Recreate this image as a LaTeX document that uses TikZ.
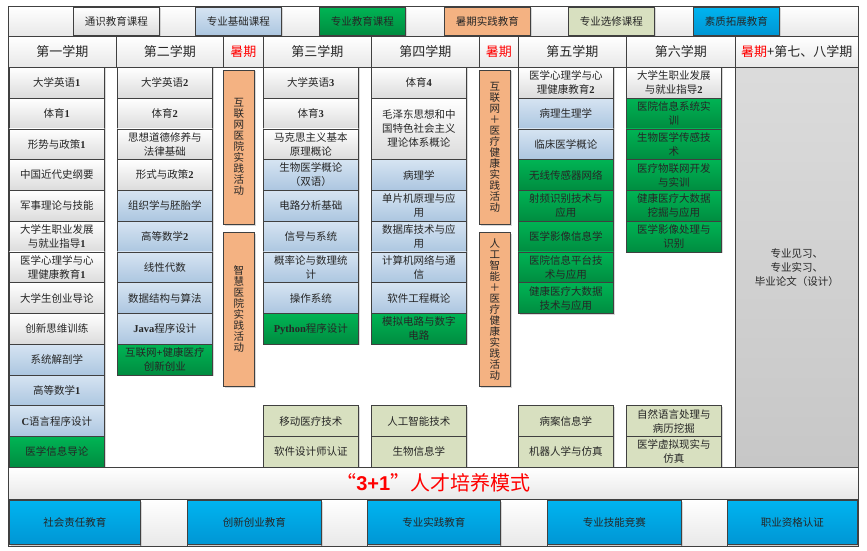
\documentclass[tikz,border=0pt]{standalone}
\usepackage{fontspec}
\setmainfont{Noto Sans CJK SC}
\newfontfamily\latinfont{Liberation Serif}
\newfontfamily\titlelatin{Liberation Sans}
\usetikzlibrary{shadows}
\definecolor{basicTop}{RGB}{214,228,242}
\definecolor{basicBot}{RGB}{172,198,224}
\definecolor{majorTop}{RGB}{0,180,84}
\definecolor{majorBot}{RGB}{0,140,64}
\definecolor{electiveFill}{RGB}{216,224,192}
\definecolor{summerFill}{RGB}{244,178,130}
\definecolor{qualityTop}{RGB}{0,180,240}
\definecolor{qualityBot}{RGB}{0,150,212}
\newcommand\lnum[1]{{\latinfont\bfseries #1}}
\begin{document}
\begin{tikzpicture}[x=1pt,y=-1pt,
    box/.style={draw=black!75,line width=0.6pt,anchor=north west,inner sep=1pt,align=center,
      font=\fontsize{10.5}{14}\selectfont,text=black!85},
    course/.style={box,minimum width=95pt,minimum height=30.77pt,
      drop shadow={shadow xshift=1.2pt,shadow yshift=-1.2pt,fill=black!30}},
    general/.style={course,top color=white,bottom color=black!14},
    basic/.style={course,top color=basicTop,bottom color=basicBot},
    major/.style={course,top color=majorTop,bottom color=majorBot},
    elective/.style={course,fill=electiveFill},
    summer/.style={course,fill=summerFill,minimum width=31pt,minimum height=154pt,
      font=\fontsize{10.5}{11}\selectfont},
    quality/.style={course,top color=qualityTop,bottom color=qualityBot},
    cell/.style={box,top color=white,bottom color=black!9}]
  \useasboundingbox (0,0) rectangle (867,551);
  \node[cell,minimum width=850,minimum height=30] (legend) at (8,6) {};
  \foreach \s/\x/\t in {general/73/通识教育课程,basic/195/专业基础课程,major/319/专业教育课程,
      summer/444/暑期实践教育,elective/568/专业选修课程,quality/693/素质拓展教育}
    \node[\s,minimum width=86,minimum height=28,font=\fontsize{10.5}{14}\selectfont] (l\x) at (\x,7) {\t};
  \foreach \x/\w/\t in {8/108/第一学期,116/107/第二学期,223/40/\textcolor{red}{暑期},263/108/第三学期,
      371/108/第四学期,479/39/\textcolor{red}{暑期},518/108/第五学期,626/109/第六学期,
      735/123/\textcolor{red}{暑期}+第七、八学期}
    \node[cell,minimum width=\w,minimum height=31,font=\fontsize{13}{15}\selectfont] (h\x) at (\x,36) {\t};
  \foreach \s/\t [count=\k from 0] in {general/大学英语\lnum{1},general/体育\lnum{1},general/形势与政策\lnum{1},
      general/中国近代史纲要,general/军事理论与技能,general/大学生职业发展\\与就业指导\lnum{1},
      general/医学心理学与心\\理健康教育\lnum{1},general/大学生创业导论,general/创新思维训练,
      basic/系统解剖学,basic/高等数学\lnum{1},basic/\lnum{C}语言程序设计,major/医学信息导论}
    \node[\s] (a\k) at (9,{67+30.77*\k}) {\t};
  \foreach \s/\t [count=\k from 0] in {general/大学英语\lnum{2},general/体育\lnum{2},general/思想道德修养与\\法律基础,
      general/形式与政策\lnum{2},basic/组织学与胚胎学,basic/高等数学\lnum{2},basic/线性代数,
      basic/数据结构与算法,basic/\lnum{Java}程序设计,major/互联网\lnum{+}健康医疗\\创新创业}
    \node[\s] (b\k) at (117,{67+30.77*\k}) {\t};
  \foreach \s/\t [count=\k from 0] in {general/大学英语\lnum{3},general/体育\lnum{3},general/马克思主义基本\\原理概论,
      basic/生物医学概论\\（双语）,basic/电路分析基础,basic/信号与系统,basic/概率论与数理统\\计,
      basic/操作系统,major/\lnum{Python}程序设计}
    \node[\s] (c\k) at (263,{67+30.77*\k}) {\t};
  \node[general] (d0) at (371,67) {体育\lnum{4}};
  \node[general,minimum height=61.54] (d1) at (371,97.77) {毛泽东思想和中\\国特色社会主义\\理论体系概论};
  \foreach \s/\t [count=\k from 3] in {basic/病理学,basic/单片机原理与应\\用,basic/数据库技术与应\\用,
      basic/计算机网络与通\\信,basic/软件工程概论,major/模拟电路与数字\\电路}
    \node[\s] (d\k) at (371,{67+30.77*\k}) {\t};
  \foreach \s/\t [count=\k from 0] in {general/医学心理学与心\\理健康教育\lnum{2},basic/病理生理学,basic/临床医学概论,
      major/无线传感器网络,major/射频识别技术与\\应用,major/医学影像信息学,major/医院信息平台技\\术与应用,
      major/健康医疗大数据\\技术与应用}
    \node[\s] (e\k) at (518,{67+30.77*\k}) {\t};
  \foreach \s/\t [count=\k from 0] in {general/大学生职业发展\\与就业指导\lnum{2},major/医院信息系统实\\训,
      major/生物医学传感技\\术,major/医疗物联网开发\\与实训,major/健康医疗大数据\\挖掘与应用,major/医学影像处理与\\识别}
    \node[\s] (f\k) at (626,{67+30.77*\k}) {\t};
  \node[elective] (c11) at (263,405.47) {移动医疗技术};
  \node[elective] (c12) at (263,436.24) {软件设计师认证};
  \node[elective] (d11) at (371,405.47) {人工智能技术};
  \node[elective] (d12) at (371,436.24) {生物信息学};
  \node[elective] (e11) at (518,405.47) {病案信息学};
  \node[elective] (e12) at (518,436.24) {机器人学与仿真};
  \node[elective] (f11) at (626,405.47) {自然语言处理与\\病历挖掘};
  \node[elective] (f12) at (626,436.24) {医学虚拟现实与\\仿真};
  \node[summer] (s1) at (223,70) {互\\联\\网\\医\\院\\实\\践\\活\\动};
  \node[summer] (s2) at (223,232) {智\\慧\\医\\院\\实\\践\\活\\动};
  \node[summer] (s3) at (479,70) {互\\联\\网\\＋\\医\\疗\\健\\康\\实\\践\\活\\动};
  \node[summer] (s4) at (479,232) {人\\工\\智\\能\\＋\\医\\疗\\健\\康\\实\\践\\活\\动};
  \node[box,top color=black!14,bottom color=black!22,minimum width=123,minimum height=400] (thesis) at (735,67)
    {专业见习、\\专业实习、\\毕业论文（设计）};
  \node[cell,minimum width=850,minimum height=32,font=\fontsize{20}{24}\selectfont,text=red] (title) at (8,467)
    {“{\titlelatin\bfseries 3+1}”人才培养模式};
  \node[cell,minimum width=850,minimum height=47] (base) at (8,499) {};
  \foreach \x/\w in {140/47,321/46,500/47,681/46}
    \node[cell,minimum width=\w,minimum height=47] (g\x) at (\x,499) {};
  \foreach \x/\w/\t in {9/131/社会责任教育,187/134/创新创业教育,367/133/专业实践教育,
      547/134/专业技能竞赛,727/130/职业资格认证}
    \node[quality,minimum width=\w,minimum height=44] (q\x) at (\x,500) {\t};
  \draw[black!75,line width=0.8pt] (legend.north west) rectangle (base.south east);
\end{tikzpicture}
\end{document}
